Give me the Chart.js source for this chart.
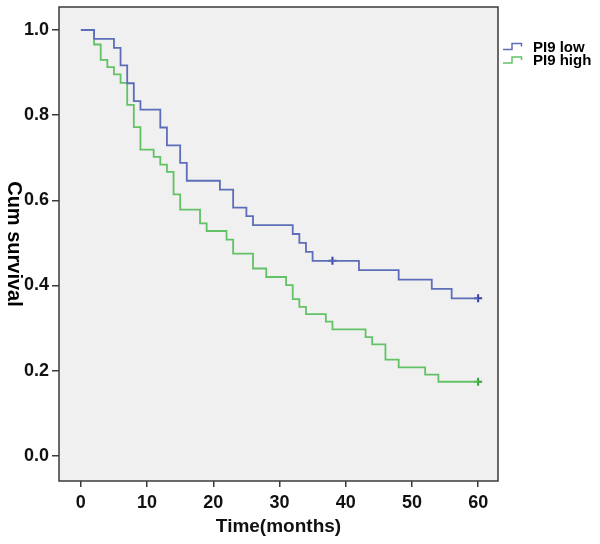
<!DOCTYPE html>
<html>
<head>
<meta charset="utf-8">
<script src="https://cdn.jsdelivr.net/npm/chart.js@4/dist/chart.umd.min.js"></script>
<style>
  html, body { margin: 0; padding: 0; background: #fff; }
  #wrap { width: 600px; height: 544px; }
</style>
</head>
<body>
<div id="wrap"><canvas id="kmChart"></canvas></div>
<script>
// Kaplan-Meier estimates
const seriesNames = ['PI9 low', 'PI9 high'];

const lowTimes = [0, 2, 5, 6, 7, 8, 9, 12, 13, 15, 16, 21, 23, 25, 26, 32, 33, 34, 35, 42, 48, 53, 56, 60];
const lowSurv = [1.0, 0.979, 0.958, 0.917, 0.875, 0.833, 0.813, 0.771, 0.729, 0.688, 0.646, 0.625, 0.583, 0.563,
    0.542, 0.521, 0.500, 0.479, 0.458, 0.436, 0.414, 0.392, 0.370, 0.370];

const highTimes = [0, 2, 3, 4, 5, 6, 7, 8, 9, 11, 12, 13, 14, 15, 18, 19, 22, 23, 26, 28, 31, 32, 33, 34, 37, 38,
    43, 44, 46, 48, 52, 54, 60];
const highSurv = [1.0, 0.966, 0.930, 0.913, 0.896, 0.876, 0.824, 0.772, 0.719, 0.702, 0.684, 0.667, 0.614, 0.578,
    0.546, 0.528, 0.508, 0.475, 0.440, 0.420, 0.401, 0.368, 0.350, 0.333, 0.315, 0.297, 0.279, 0.262, 0.226,
    0.208, 0.191, 0.174, 0.174];

// censored observations
const lowCensorTimes = [38, 60];
const lowCensorSurv = [0.458, 0.370];
const highCensorTimes = [60];
const highCensorSurv = [0.174];

const xTicks = [0, 10, 20, 30, 40, 50, 60];
const yTicks = [0.0, 0.2, 0.4, 0.6, 0.8, 1.0];

const xTitle = 'Time(months)';
const yTitle = 'Cum survival';

const FONT = '"Liberation Sans", Arial, sans-serif';
const lineColors = ['#5d6db8', '#62c265'];
const markColors = ['#34429f', '#2fa236'];

const toPoints = (xs, ys) => xs.map((x, i) => ({ x: x, y: ys[i] }));

const plotFrame = {
    id: 'plotFrame',
    beforeDraw(chart) {
        const { ctx, chartArea: a } = chart;
        ctx.save();
        ctx.fillStyle = '#f0f0f0';
        ctx.fillRect(a.left, a.top, a.right - a.left, a.bottom - a.top);
        ctx.restore();
    },
    afterDraw(chart) {
        const { ctx, chartArea: a } = chart;
        ctx.save();
        ctx.strokeStyle = '#3a3a3a';
        ctx.lineWidth = 1.5;
        ctx.strokeRect(a.left, a.top, a.right - a.left, a.bottom - a.top);

        // y title, reading top to bottom
        ctx.fillStyle = '#000';
        ctx.font = 'bold 20px ' + FONT;
        ctx.textAlign = 'center';
        ctx.textBaseline = 'middle';
        ctx.translate(14, (a.top + a.bottom) / 2);
        ctx.rotate(Math.PI / 2);
        ctx.fillText(yTitle, 0, 0);
        ctx.restore();

        // legend with step-shaped keys
        ctx.save();
        ctx.font = 'bold 15px ' + FONT;
        ctx.textBaseline = 'alphabetic';
        ctx.textAlign = 'left';
        seriesNames.forEach((name, i) => {
            const y0 = 49.5 + i * 13.5;
            ctx.strokeStyle = lineColors[i];
            ctx.lineWidth = 1.5;
            ctx.beginPath();
            ctx.moveTo(503, y0);
            ctx.lineTo(512, y0);
            ctx.lineTo(512, y0 - 6);
            ctx.lineTo(521.5, y0 - 6);
            ctx.lineTo(521.5, y0 - 3);
            ctx.stroke();
            ctx.fillStyle = '#000';
            ctx.fillText(name, 533, y0 + 2);
        });
        ctx.restore();
    }
};

new Chart(document.getElementById('kmChart'), {
    type: 'line',
    data: {
        datasets: [
            {
                label: seriesNames[0],
                data: toPoints(lowTimes, lowSurv),
                borderColor: lineColors[0],
                borderWidth: 1.8,
                stepped: true,
                pointRadius: 0
            },
            {
                label: seriesNames[1],
                data: toPoints(highTimes, highSurv),
                borderColor: lineColors[1],
                borderWidth: 1.8,
                stepped: true,
                pointRadius: 0
            },
            {
                label: 'low censored',
                data: toPoints(lowCensorTimes, lowCensorSurv),
                showLine: false,
                pointStyle: 'cross',
                pointRadius: 4,
                pointBorderWidth: 2,
                pointBorderColor: markColors[0]
            },
            {
                label: 'high censored',
                data: toPoints(highCensorTimes, highCensorSurv),
                showLine: false,
                pointStyle: 'cross',
                pointRadius: 4,
                pointBorderWidth: 2,
                pointBorderColor: markColors[1]
            }
        ]
    },
    options: {
        responsive: true,
        maintainAspectRatio: false,
        animation: false,
        layout: {
            padding: { top: 7, right: 102, left: 0, bottom: 0 }
        },
        plugins: {
            legend: { display: false },
            tooltip: { enabled: false }
        },
        scales: {
            x: {
                type: 'linear',
                min: -3.3,
                max: 63,
                afterBuildTicks: scale => { scale.ticks = xTicks.map(v => ({ value: v })); },
                afterFit: scale => {
                    scale.height = 63;
                    scale.paddingLeft = 0;
                    scale.paddingRight = 0;
                },
                border: { display: false },
                grid: {
                    drawOnChartArea: false,
                    drawTicks: true,
                    tickLength: 6,
                    color: '#3a3a3a',
                    lineWidth: 1.5
                },
                ticks: {
                    padding: 5,
                    color: '#111',
                    font: { family: FONT, size: 18, weight: 'bold' },
                    maxRotation: 0,
                    callback: v => String(v)
                },
                title: {
                    display: true,
                    text: xTitle,
                    color: '#111',
                    font: { family: FONT, size: 19, weight: 'bold' },
                    padding: { top: 0, bottom: 6 }
                }
            },
            y: {
                type: 'linear',
                min: -0.059,
                max: 1.054,
                afterBuildTicks: scale => { scale.ticks = yTicks.map(v => ({ value: v })); },
                afterFit: scale => {
                    scale.width = 59;
                    scale.paddingTop = 0;
                    scale.paddingBottom = 0;
                },
                border: { display: false },
                grid: {
                    drawOnChartArea: false,
                    drawTicks: true,
                    tickLength: 7,
                    color: '#3a3a3a',
                    lineWidth: 1.5
                },
                ticks: {
                    padding: 3,
                    color: '#111',
                    font: { family: FONT, size: 18, weight: 'bold' },
                    callback: v => v.toFixed(1)
                }
            }
        }
    },
    plugins: [plotFrame]
});
</script>
</body>
</html>
